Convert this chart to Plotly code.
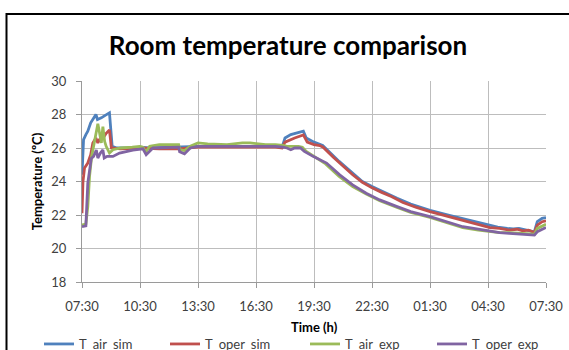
import plotly.graph_objects as go

# Hours elapsed since 07:30
tick_vals = [0, 3, 6, 9, 12, 15, 18, 21, 24]
tick_text = ["07:30", "10:30", "13:30", "16:30", "19:30", "22:30", "01:30", "04:30", "07:30"]

t_air_sim_h = [0, 0.08, 0.2, 0.3, 0.45, 0.6, 0.72, 0.8, 1.0, 1.2, 1.42, 1.56, 1.8, 2.5, 3.0, 3.5, 4.5, 6.0, 8.0, 10.0, 10.35,
               10.5, 10.8, 11.2, 11.45, 11.6, 12.0, 12.45, 12.8, 13.3, 13.7, 14.5, 15.0, 15.5, 16.3, 17.0, 18.0, 19.0,
               19.7, 20.5, 21.0, 21.5, 22.0, 22.3, 22.6, 23.0, 23.4, 23.55, 23.8, 24.0]
t_air_sim = [24.4, 26.5, 26.8, 27.0, 27.5, 27.8, 28.0, 27.7, 27.8, 27.95, 28.1, 26.1, 26.0, 26.0, 26.05, 26.0, 26.05, 26.1, 26.1, 26.1, 26.05,
             26.6, 26.8, 26.9, 27.0, 26.6, 26.35, 26.15, 25.75, 25.2, 24.8, 24.0, 23.7, 23.42, 23.0, 22.65, 22.28, 21.98,
             21.78, 21.52, 21.38, 21.27, 21.2, 21.17, 21.2, 21.12, 21.0, 21.6, 21.8, 21.85]

t_oper_sim_h = [0, 0.05, 0.13, 0.3, 0.45, 0.56, 0.72, 0.82, 0.9, 1.1, 1.25, 1.42, 1.52, 2.0, 3.0, 4.0, 5.0, 6.0, 8.0, 10.0, 10.35,
                10.5, 11.0, 11.45, 11.65, 12.0, 12.3, 12.47, 13.0, 13.5, 14.0, 14.5, 15.0, 15.5, 16.0, 16.6, 17.3, 18.0,
                19.0, 19.7, 20.5, 21.1, 21.6, 22.1, 22.5, 22.8, 23.1, 23.4, 23.55, 23.8, 24.0]
t_oper_sim = [22.1, 24.0, 24.8, 25.1, 25.6, 26.3, 26.6, 26.3, 26.5, 26.6, 26.88, 27.08, 26.0, 25.95, 26.0, 25.95, 25.95, 26.05, 26.05, 26.05, 26.0,
              26.35, 26.6, 26.78, 26.35, 26.2, 26.15, 26.05, 25.45, 24.9, 24.4, 23.95, 23.62, 23.35, 23.1, 22.75, 22.45, 22.2,
              21.9, 21.7, 21.45, 21.25, 21.2, 21.1, 21.15, 21.05, 21.1, 20.95, 21.4, 21.6, 21.65]

t_air_exp_h = [0, 0.2, 0.3, 0.39, 0.5, 0.65, 0.75, 0.82, 0.91, 1.0, 1.08, 1.17, 1.25, 1.42, 1.6, 2.0, 2.6, 3.0, 3.15, 3.3, 3.5,
               4.0, 4.5, 5.0, 5.05, 5.3, 5.6, 6.0, 6.5, 7.5, 8.3, 8.7, 9.5, 10.0, 10.4, 10.6, 11.2, 11.4, 11.6, 12.0, 12.6,
               13.3, 14.0, 14.7, 15.4, 16.3, 17.0, 18.0, 19.0, 19.7, 20.5, 21.0, 21.6, 22.1, 22.6, 23.0, 23.4, 23.55, 24.0]
t_air_exp = [21.4, 21.45, 22.5, 24.3, 25.5, 26.5, 27.2, 27.45, 26.9, 26.3, 27.27, 26.4, 26.1, 25.7, 25.9, 26.0, 26.05, 26.1, 26.05, 25.75, 26.1,
             26.2, 26.2, 26.2, 25.9, 25.85, 26.1, 26.3, 26.25, 26.2, 26.3, 26.3, 26.2, 26.2, 26.15, 26.1, 26.1, 26.05, 25.8, 25.5, 25.05,
             24.3, 23.7, 23.25, 22.85, 22.45, 22.15, 21.85, 21.5, 21.25, 21.1, 21.05, 20.95, 20.95, 20.9, 20.9, 20.85, 21.2, 21.45]

t_oper_exp_h = [0, 0.2, 0.3, 0.48, 0.6, 0.74, 0.82, 0.95, 1.08, 1.15, 1.3, 1.6, 1.94, 2.63, 3.15, 3.32, 3.67, 4.5, 5.0, 5.05, 5.3,
                5.6, 6.0, 7.0, 8.0, 9.0, 10.0, 10.4, 10.6, 10.8, 11.0, 11.3, 11.5, 11.95, 12.65, 13.33, 14.0, 14.7, 15.4,
                16.3, 17.0, 18.0, 19.0, 19.7, 20.5, 21.0, 21.6, 22.1, 22.6, 23.0, 23.4, 23.55, 24.0]
t_oper_exp = [21.3, 21.35, 23.9, 25.38, 25.5, 25.88, 25.4, 25.7, 25.88, 25.4, 25.5, 25.5, 25.7, 25.88, 25.95, 25.6, 26.0, 26.05, 26.05, 25.78, 25.65,
              26.0, 26.1, 26.1, 26.1, 26.1, 26.1, 26.05, 26.0, 25.9, 26.0, 26.0, 25.8, 25.5, 25.1, 24.4, 23.8, 23.3, 22.9,
              22.5, 22.2, 21.9, 21.55, 21.3, 21.15, 21.05, 20.95, 20.9, 20.85, 20.8, 20.8, 21.0, 21.25]

series = [
    ("T_air_sim", t_air_sim_h, t_air_sim, "#4F81BD"),
    ("T_oper_sim", t_oper_sim_h, t_oper_sim, "#C0504D"),
    ("T_air_exp", t_air_exp_h, t_air_exp, "#9BBB59"),
    ("T_oper_exp", t_oper_exp_h, t_oper_exp, "#8064A2"),
]

FONT = "Lato, 'Open Sans', sans-serif"
legend_names = ["legend", "legend2", "legend3", "legend4"]
legend_x_px = [39, 165, 305, 432]

fig = go.Figure()
for (name, xs, ys, col), lg in zip(series, legend_names):
    fig.add_trace(go.Scatter(x=xs, y=ys, mode="lines", name=name, legend=lg,
                             line=dict(color=col, width=2.8)))

W, H = 569, 350
L, R, T, B = 82, 23, 81, 68
pw, ph = W - L - R, H - T - B

def px(x):
    return (x - L) / pw

def py(y):
    return (H - B - y) / ph

legend_layout = {}
for lg, lx in zip(legend_names, legend_x_px):
    legend_layout[lg] = dict(orientation="h", x=lx / W, xref="container", xanchor="left",
                             y=1 - 344 / H, yref="container", yanchor="middle",
                             itemwidth=30, font=dict(size=13, color="#404040"),
                             bgcolor="rgba(0,0,0,0)")

fig.update_layout(
    width=W, height=H,
    margin=dict(l=L, r=R, t=T, b=B, autoexpand=False),
    paper_bgcolor="white", plot_bgcolor="white",
    font=dict(family=FONT, size=13, color="#404040"),
    title=dict(text="<b>Room temperature comparison</b>", font=dict(size=26, color="black"),
               x=288 / W, xref="container", xanchor="center",
               y=1 - 46 / H, yref="container", yanchor="middle"),
    xaxis=dict(range=[0, 24], tickmode="array", tickvals=tick_vals, ticktext=tick_text,
               showgrid=True, gridcolor="#BDBDBD", gridwidth=1,
               showline=True, linecolor="#9A9A9A", linewidth=1,
               ticks="outside", ticklen=5, tickcolor="#9A9A9A",
               ticklabelstandoff=7, zeroline=False,
               tickfont=dict(size=13, color="#404040")),
    yaxis=dict(range=[18, 30], tickmode="array", tickvals=[18, 20, 22, 24, 26, 28, 30],
               showgrid=True, gridcolor="#BDBDBD", gridwidth=1,
               showline=True, linecolor="#9A9A9A", linewidth=1,
               ticks="outside", ticklen=5, tickcolor="#9A9A9A",
               ticklabelstandoff=7, zeroline=False,
               tickfont=dict(size=13, color="#404040"),
               title=dict(text="<b>Temperature (ºC)</b>", font=dict(size=13, color="black"), standoff=5)),
    annotations=[dict(text="<b>Time (h)</b>", xref="paper", x=0.5, xanchor="center",
                      yref="paper", y=py(327), yanchor="middle", showarrow=False,
                      font=dict(size=13, color="black", family=FONT))],
    shapes=[dict(type="rect", xref="paper", yref="paper",
                 x0=px(6.5), x1=px(585), y0=py(370), y1=py(14),
                 line=dict(color="black", width=2), fillcolor="rgba(0,0,0,0)", layer="below")],
    showlegend=True,
    **legend_layout,
)

fig.write_html("out.html", config={"displayModeBar": False},
               post_script="document.body.style.margin='0';document.body.style.overflow='hidden';")
